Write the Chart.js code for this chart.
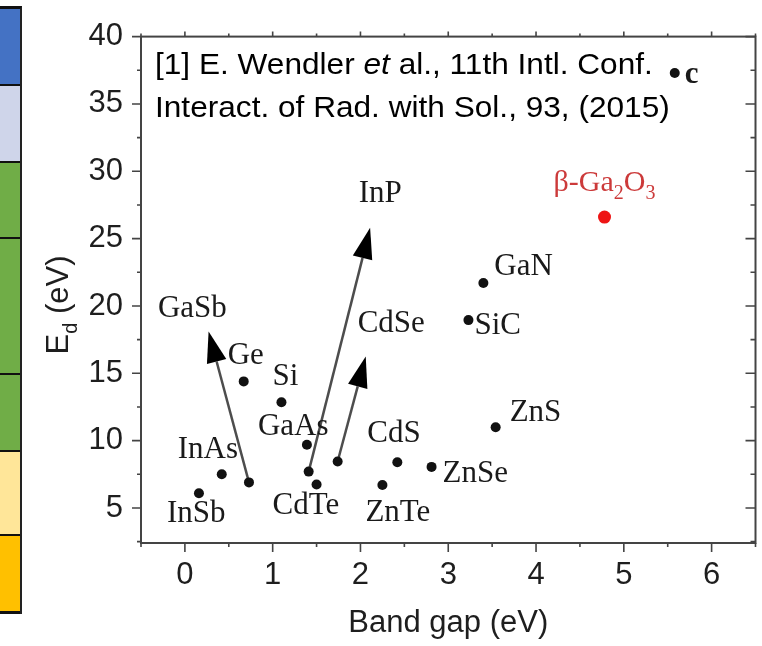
<!DOCTYPE html>
<html>
<head>
<meta charset="utf-8">
<title>Displacement energy vs band gap</title>
<script src="https://cdn.jsdelivr.net/npm/chart.js@4"></script>
<style>
  html, body { margin: 0; padding: 0; background: #fff; }
  #wrap { position: relative; width: 762px; height: 646px; overflow: hidden; }
  #chart { position: absolute; left: 0; top: 0; }
  .strip { position: absolute; left: 0; top: 6px; width: 20px; border-top: 3px solid #111; border-right: 2px solid #222; }
  .strip div { border-bottom: 2px solid #111; box-sizing: border-box; }
</style>
</head>
<body>
<div id="wrap">
  <canvas id="chart" width="762" height="646"></canvas>
  <div class="strip">
    <div style="height:77px;background:#4472c4"></div>
    <div style="height:77px;background:#cfd5ea"></div>
    <div style="height:76px;background:#70ad47"></div>
    <div style="height:136px;background:#70ad47"></div>
    <div style="height:77px;background:#70ad47"></div>
    <div style="height:84px;background:#ffe699"></div>
    <div style="height:78px;background:#ffc000;border-bottom-width:3px"></div>
  </div>
</div>
<script>
// materials and their threshold displacement energies
const materials = ['InSb', 'InAs', 'GaSb', 'Ge', 'Si', 'GaAs', 'InP', 'CdTe', 'CdSe', 'ZnTe', 'CdS', 'ZnSe', 'ZnS', 'SiC', 'GaN', 'c']
const bandGap = [0.16, 0.42, 0.73, 0.67, 1.10, 1.39, 1.41, 1.50, 1.74, 2.25, 2.42, 2.81, 3.54, 3.23, 3.40, 5.58]
const dispEnergy = [6.1, 7.5, 6.9, 14.4, 12.85, 9.7, 7.7, 6.75, 8.45, 6.7, 8.4, 8.05, 11.0, 18.95, 21.7, 37.3]

// beta-Ga2O3 shown in red
const ga2o3Gap = [4.78]
const ga2o3Energy = [26.6]

// arrows start at a material and end at these values
const arrowFrom = ['GaSb', 'InP', 'CdSe']
const arrowTipGap = [0.27, 2.11, 2.06]
const arrowTipEnergy = [18.1, 25.8, 16.25]

const xTicks = [0, 1, 2, 3, 4, 5, 6]
const yTicks = [5, 10, 15, 20, 25, 30, 35, 40]

// label placement in pixels relative to the point (left, baseline)
const labelOffset = {
    InSb: [-32, 29], InAs: [-44, -16], GaSb: [-91, -165], Ge: [-16, -17], Si: [-9, -17],
    GaAs: [-49, -10], InP: [50, -270], CdTe: [-44, 30], CdSe: [20, -130], ZnTe: [-17, 36],
    CdS: [-30, -20], ZnSe: [11, 15], ZnS: [14, -6], SiC: [6, 14], GaN: [11, -8], c: [10, 10]
}
const ga2o3Offset = [-51, -26]

const sans = "'Liberation Sans', Arial, sans-serif"
const serif = "'Liberation Serif', 'Times New Roman', serif"
const axisColor = '#444'
const textColor = '#1e1e1e'

// text pieces in a row, some lowered as subscripts or set in italic
function drawParts(ctx, parts, x, y, size) {
    for (let p of parts) {
        let fs = p.sub ? Math.round(size * 0.66) : size
        ctx.font = (p.italic ? 'italic ' : '') + fs + 'px ' + p.family
        ctx.fillText(p.t, x, p.sub ? y + size * 0.28 : y)
        x += ctx.measureText(p.t).width
    }
}

function partsWidth(ctx, parts, size) {
    let w = 0
    for (let p of parts) {
        ctx.font = (p.sub ? Math.round(size * 0.66) : size) + 'px ' + p.family
        w += ctx.measureText(p.t).width
    }
    return w
}

const decor = {
    id: 'decor',
    beforeDatasetsDraw(chart) {
        const ctx = chart.ctx
        const xs = chart.scales.x, ys = chart.scales.y
        ctx.save()
        arrowFrom.forEach((name, i) => {
            let k = materials.indexOf(name)
            let x0 = xs.getPixelForValue(bandGap[k]), y0 = ys.getPixelForValue(dispEnergy[k])
            let x1 = xs.getPixelForValue(arrowTipGap[i]), y1 = ys.getPixelForValue(arrowTipEnergy[i])
            let ang = Math.atan2(y1 - y0, x1 - x0)
            let headLen = 31, headW = 10
            let bx = x1 - headLen * Math.cos(ang), by = y1 - headLen * Math.sin(ang)
            ctx.strokeStyle = '#4d4d4d'
            ctx.lineWidth = 2.5
            ctx.beginPath()
            ctx.moveTo(x0, y0)
            ctx.lineTo(bx, by)
            ctx.stroke()
            ctx.fillStyle = '#000'
            ctx.beginPath()
            ctx.moveTo(x1, y1)
            ctx.lineTo(bx + headW * Math.sin(ang), by - headW * Math.cos(ang))
            ctx.lineTo(bx - headW * Math.sin(ang), by + headW * Math.cos(ang))
            ctx.closePath()
            ctx.fill()
        })
        ctx.restore()
    },
    afterDatasetsDraw(chart) {
        const ctx = chart.ctx
        const xs = chart.scales.x, ys = chart.scales.y
        ctx.save()
        ctx.textBaseline = 'alphabetic'
        ctx.textAlign = 'left'
        ctx.fillStyle = '#1a1a1a'
        materials.forEach((name, i) => {
            let off = labelOffset[name]
            ctx.font = (name === 'c' ? 'bold ' : '') + '31px ' + serif
            ctx.fillText(name, xs.getPixelForValue(bandGap[i]) + off[0], ys.getPixelForValue(dispEnergy[i]) + off[1])
        })
        ctx.fillStyle = '#cc3a3a'
        drawParts(ctx, [
            { t: 'β-Ga', family: serif }, { t: '2', family: serif, sub: true },
            { t: 'O', family: serif }, { t: '3', family: serif, sub: true }
        ], xs.getPixelForValue(ga2o3Gap[0]) + ga2o3Offset[0], ys.getPixelForValue(ga2o3Energy[0]) + ga2o3Offset[1], 30)
        ctx.restore()
    },
    afterDraw(chart) {
        const ctx = chart.ctx
        const a = chart.chartArea
        const xs = chart.scales.x, ys = chart.scales.y
        ctx.save()
        ctx.strokeStyle = axisColor
        ctx.lineWidth = 2
        ctx.strokeRect(a.left, a.top, a.right - a.left, a.bottom - a.top)

        // x ticks: bottom and top both outward, minor at halves
        ctx.lineWidth = 1.6
        ctx.beginPath()
        for (let v = -0.5; v <= 6.5; v += 0.5) {
            let px = xs.getPixelForValue(v)
            let major = Number.isInteger(v)
            ctx.moveTo(px, a.bottom)
            ctx.lineTo(px, a.bottom + (major ? 9 : 4))
            ctx.moveTo(px, a.top)
            ctx.lineTo(px, a.top - (major ? 5 : 3))
        }
        // y ticks: left outward, right inward, minor at 2.5
        for (let v = 2.5; v <= 40; v += 2.5) {
            let py = ys.getPixelForValue(v)
            let major = v % 5 === 0
            ctx.moveTo(a.left, py)
            ctx.lineTo(a.left - (major ? 9 : 4), py)
            ctx.moveTo(a.right, py)
            ctx.lineTo(a.right - (major ? 10 : 5), py)
        }
        ctx.stroke()

        // y axis title with subscript
        ctx.fillStyle = textColor
        ctx.translate(68, 305)
        ctx.rotate(-Math.PI / 2)
        let parts = [{ t: 'E', family: sans }, { t: 'd', family: sans, sub: true }, { t: ' (eV)', family: sans }]
        drawParts(ctx, parts, -partsWidth(ctx, parts, 31) / 2, 0, 31)
        ctx.restore()

        // reference note
        ctx.save()
        ctx.fillStyle = '#000'
        ctx.translate(155, 0)
        ctx.scale(1.09, 1)
        drawParts(ctx, [
            { t: '[1] E. Wendler ', family: sans }, { t: 'et', family: sans, italic: true }, { t: ' al., 11th Intl. Conf.', family: sans }
        ], 0, 74, 29)
        drawParts(ctx, [{ t: 'Interact. of Rad. with Sol., 93, (2015)', family: sans }], 0, 117, 29)
        ctx.restore()
    }
}

const ctx = document.getElementById('chart').getContext('2d')
new Chart(ctx, {
    type: 'scatter',
    data: {
        datasets: [{
            data: bandGap.map((x, i) => ({ x: x, y: dispEnergy[i] })),
            pointRadius: 5,
            pointBackgroundColor: '#111',
            pointBorderWidth: 0
        }, {
            data: ga2o3Gap.map((x, i) => ({ x: x, y: ga2o3Energy[i] })),
            pointRadius: 6.5,
            pointBackgroundColor: '#ee1414',
            pointBorderWidth: 0
        }]
    },
    options: {
        responsive: false,
        animation: false,
        layout: { padding: { left: 0, top: 24, right: 5, bottom: 0 } },
        plugins: { legend: { display: false }, tooltip: { enabled: false } },
        scales: {
            x: {
                type: 'linear', min: -0.5, max: 6.5,
                afterBuildTicks: s => { s.ticks = xTicks.map(v => ({ value: v })) },
                afterFit: s => { s.height = 103 },
                grid: { display: false, drawTicks: false },
                border: { display: false },
                ticks: { color: textColor, padding: 14, font: { family: sans, size: 31 } },
                title: { display: true, text: 'Band gap (eV)', color: textColor, font: { family: sans, size: 31 }, padding: { top: 0, bottom: 4 } }
            },
            y: {
                type: 'linear', min: 2.4, max: 40,
                afterBuildTicks: s => { s.ticks = yTicks.map(v => ({ value: v })) },
                afterFit: s => { s.width = 141 },
                grid: { display: false, drawTicks: false },
                border: { display: false },
                ticks: { color: textColor, padding: 18, font: { family: sans, size: 31 } }
            }
        }
    },
    plugins: [decor]
})
</script>
</body>
</html>
